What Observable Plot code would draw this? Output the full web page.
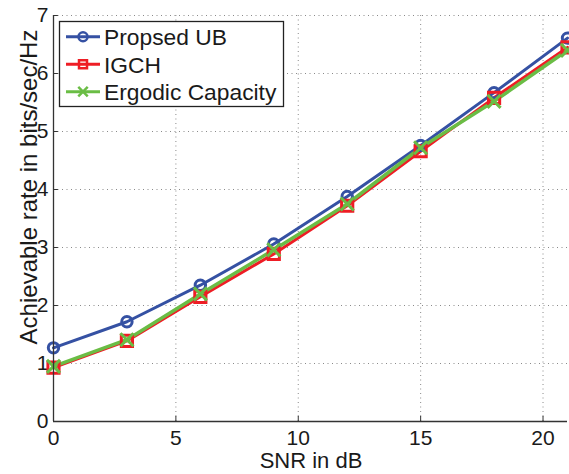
<!DOCTYPE html>
<html>
<head>
<meta charset="utf-8">
<script src="https://cdn.jsdelivr.net/npm/d3@7"></script>
<script src="https://cdn.jsdelivr.net/npm/@observablehq/plot@0.6"></script>
<style>
  html, body { margin: 0; padding: 0; background: white; }
</style>
</head>
<body>
<div id="chart"></div>
<script>
const snr = [0, 3, 6, 9, 12, 15, 18, 21];
const proposedUB = [1.27, 1.72, 2.35, 3.06, 3.88, 4.76, 5.67, 6.61];
const igch = [0.93, 1.39, 2.15, 2.89, 3.72, 4.66, 5.58, 6.45];
const ergodic = [0.95, 1.41, 2.20, 2.96, 3.75, 4.72, 5.52, 6.40];
const seriesNames = ["Propsed UB", "IGCH", "Ergodic Capacity"];
const seriesColors = ["#3551A3", "#EE1D25", "#6ABD45"];
const seriesSymbols = ["circle", "square", "times"];
const xTicks = [0, 5, 10, 15, 20];
const yTicks = [0, 1, 2, 3, 4, 5, 6, 7];
const xLabel = "SNR in dB";
const yLabel = "Achievable rate in bits/sec/Hz";

const seriesValues = [proposedUB, igch, ergodic];
const rows = seriesNames.map((name, i) => snr.map((x, j) => ({x, y: seriesValues[i][j], series: name})));

const gridStyle = {stroke: "#8a8a8a", strokeWidth: 1, strokeDasharray: "1,3.5"};
const font = "'Liberation Sans', Arial, Helvetica, sans-serif";

const marks = [
  Plot.ruleX(xTicks, gridStyle),
  Plot.ruleY(yTicks, gridStyle),
  Plot.ruleX(xTicks, {y1: 0, y2: 0.09, stroke: "#333", strokeWidth: 1}),
  Plot.ruleY(yTicks, {x1: 0, x2: 0.2, stroke: "#333", strokeWidth: 1}),
];
const widths = [3, 3, 3.5];
const sizes = [5.2, 6.3, 6];
rows.forEach((data, i) => {
  marks.push(Plot.line(data, {x: "x", y: "y", stroke: seriesColors[i], strokeWidth: widths[i]}));
});
rows.forEach((data, i) => {
  marks.push(Plot.dot(data, {x: "x", y: "y", stroke: seriesColors[i], strokeWidth: 3, fill: "none", symbol: seriesSymbols[i], r: sizes[i]}));
});
marks.push(Plot.ruleY([0], {stroke: "#333", strokeWidth: 1.3}));
marks.push(Plot.ruleX([0], {stroke: "#333", strokeWidth: 1.3}));

const svgPlot = Plot.plot({
  width: 569,
  height: 474,
  marginLeft: 53,
  marginRight: 2,
  marginTop: 15,
  marginBottom: 53,
  style: {fontFamily: font, fontSize: "21px", color: "#1a1a1a", background: "white", overflow: "hidden"},
  x: {domain: [0, 21], ticks: xTicks, tickSize: 0, tickPadding: 9, label: null, tickFormat: d => String(d)},
  y: {domain: [0, 7], ticks: yTicks, tickSize: 0, tickPadding: 5, label: null, tickFormat: d => String(d)},
  marks
});

document.getElementById("chart").appendChild(svgPlot);

const svg = d3.select(svgPlot);
// axis labels
svg.append("text")
  .attr("x", 311).attr("y", 468)
  .attr("text-anchor", "middle")
  .style("font-family", font).style("font-size", "22px").attr("fill", "#1a1a1a")
  .text(xLabel);
svg.append("text")
  .attr("transform", "translate(37,187) rotate(-90)")
  .attr("text-anchor", "middle")
  .style("font-family", font).style("font-size", "24px").attr("fill", "#1a1a1a")
  .text(yLabel);

// legend
const lg = svg.append("g").attr("text-anchor", "start");
lg.append("rect").attr("x", 59.5).attr("y", 21.5).attr("width", 224).attr("height", 85)
  .attr("fill", "white").attr("stroke", "#222").attr("stroke-width", 1.3);
const rowY = [36.7, 64.3, 91.7];
const legendSym = [
  d3.symbol(d3.symbolCircle, Math.PI * 4.5 * 4.5),
  d3.symbol(d3.symbolSquare, 8 * 8),
  d3.symbol(d3.symbolTimes, 60)
];
seriesNames.forEach((name, i) => {
  const g = lg.append("g");
  g.append("line").attr("x1", 66).attr("x2", 100).attr("y1", rowY[i]).attr("y2", rowY[i])
    .attr("stroke", seriesColors[i]).attr("stroke-width", 3);
  g.append("path").attr("d", legendSym[i]()).attr("transform", `translate(83,${rowY[i]})`)
    .attr("fill", "none").attr("stroke", seriesColors[i]).attr("stroke-width", 2.5);
  g.append("text").attr("x", 104).attr("y", rowY[i]).attr("dy", "0.36em")
    .attr("text-anchor", "start")
    .style("font-family", font).style("font-size", "22.8px").attr("fill", "#1a1a1a")
    .text(name);
});
</script>
</body>
</html>
